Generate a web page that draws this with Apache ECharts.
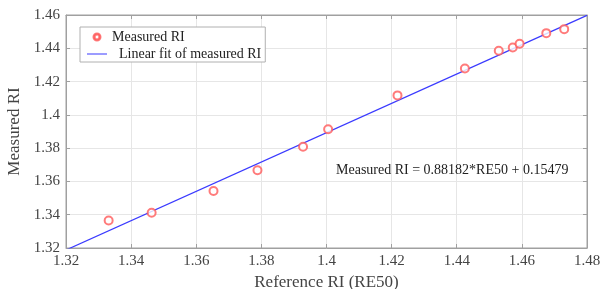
<!DOCTYPE html>
<html lang="en">
<head>
    <meta charset="UTF-8">
    <title>Measured RI</title>
    <script src="https://cdn.jsdelivr.net/npm/echarts@6/dist/echarts.min.js"></script>
    <style type="text/css">
        body { margin: 0; background: #fff; }
        #main { width: 606px; height: 289px; }
    </style>
</head>
<body>
    <div id="main"></div>
<script>
    // reference RI (RE50) vs measured RI
    var referenceRI = [1.3331, 1.3463, 1.3653, 1.3788, 1.3928, 1.4005, 1.4218, 1.4425, 1.4529, 1.4572, 1.4593, 1.4675, 1.4730];
    var measuredRI = [1.3365, 1.3412, 1.3542, 1.3667, 1.3808, 1.3913, 1.4117, 1.4279, 1.4385, 1.4405, 1.4427, 1.4491, 1.4515];
    // ends of the fitted line
    var fitX = [1.32, 1.48];
    var fitY = [1.3188, 1.4598];
    var fitText = 'Measured RI = 0.88182*RE50 + 0.15479';

    var pairs = function (xs, ys) {
        var res = [];
        for (var i = 0; i < xs.length; i++) {
            res.push([xs[i], ys[i]]);
        }
        return res;
    };

    var font = 'Liberation Serif, Times New Roman, serif';
    var frame = '#a0a0a0';
    var fmt = function (v) { return +v.toFixed(2) + ''; };

    // top / right copies of the axes, only for the inward ticks
    var mirrorAxis = function (pos, min, max) {
        return {
            type: 'value', position: pos,
            min: min, max: max, interval: 0.02,
            axisLine: { show: true, lineStyle: { color: frame } },
            axisTick: { inside: true, length: 4, lineStyle: { color: frame } },
            axisLabel: { show: false },
            splitLine: { show: false }
        };
    };

    var option = {
        backgroundColor: '#fff',
        animation: false,
        textStyle: { fontFamily: font },
        grid: {
            left: 66, right: 19, top: 15, bottom: 41,
            outerBoundsMode: 'none',
            show: true, borderColor: frame, borderWidth: 1
        },
        legend: {
            orient: 'vertical',
            left: 80, top: 27,
            padding: [3, 4, 1, 6],
            itemGap: 3,
            itemWidth: 20, itemHeight: 8,
            backgroundColor: '#fff',
            borderColor: '#b0b0b0', borderWidth: 1, borderRadius: 0,
            textStyle: { fontFamily: font, fontSize: 14, color: '#222' },
            formatter: function (name) {
                return name === 'Measured RI' ? name : '  ' + name;
            },
            data: [
                { name: 'Measured RI', icon: 'path://M0,0L0.01,0 M10,0.5A3.5,3.5 0 1,1 10,7.5A3.5,3.5 0 1,1 10,0.5Z M10,1.6A2.4,2.4 0 1,0 10,6.4A2.4,2.4 0 1,0 10,1.6Z M20,8L20.01,8' },
                { name: 'Linear fit of measured RI', icon: 'path://M0,0L0.01,0 M0,3.4L20,3.4L20,4.6L0,4.6Z M20,8L20.01,8' }
            ]
        },
        xAxis: [{
            type: 'value',
            min: 1.32, max: 1.48, interval: 0.02,
            name: 'Reference RI (RE50)',
            nameLocation: 'middle', nameGap: 25,
            nameTextStyle: { fontFamily: font, fontSize: 17, color: '#444' },
            axisLine: { show: true, lineStyle: { color: frame } },
            axisTick: { inside: true, length: 4, lineStyle: { color: frame } },
            axisLabel: { fontFamily: font, fontSize: 15, color: '#444', margin: 6, formatter: fmt },
            splitLine: { lineStyle: { color: '#e6e6e6' } }
        }, mirrorAxis('top', 1.32, 1.48)],
        yAxis: [{
            type: 'value',
            min: 1.32, max: 1.46, interval: 0.02,
            name: 'Measured RI',
            nameLocation: 'middle', nameGap: 37,
            nameTextStyle: { fontFamily: font, fontSize: 17, color: '#444' },
            axisLine: { show: true, lineStyle: { color: frame } },
            axisTick: { inside: true, length: 4, lineStyle: { color: frame } },
            axisLabel: { fontFamily: font, fontSize: 15, color: '#444', margin: 6, formatter: fmt },
            splitLine: { lineStyle: { color: '#e6e6e6' } }
        }, mirrorAxis('right', 1.32, 1.46)],
        series: [{
            name: 'Measured RI',
            type: 'scatter',
            symbol: 'emptyCircle',
            symbolSize: 8,
            itemStyle: { color: '#ff5a5a', borderColor: '#ff5a5a', borderWidth: 1 },
            data: pairs(referenceRI, measuredRI),
            z: 3
        }, {
            name: 'Linear fit of measured RI',
            type: 'line',
            symbol: 'none',
            lineStyle: { color: '#3a3aff', width: 1.2 },
            itemStyle: { color: '#3a3aff' },
            data: pairs(fitX, fitY),
            markPoint: {
                symbol: 'rect', symbolSize: 0,
                label: {
                    show: true, formatter: fitText,
                    fontFamily: font, fontSize: 14, color: '#222'
                },
                data: [{ coord: [1.4386, 1.3668] }]
            },
            z: 2
        }]
    };

    var myChart = echarts.init(document.getElementById('main'));
    myChart.setOption(option);
</script>
</body>
</html>
